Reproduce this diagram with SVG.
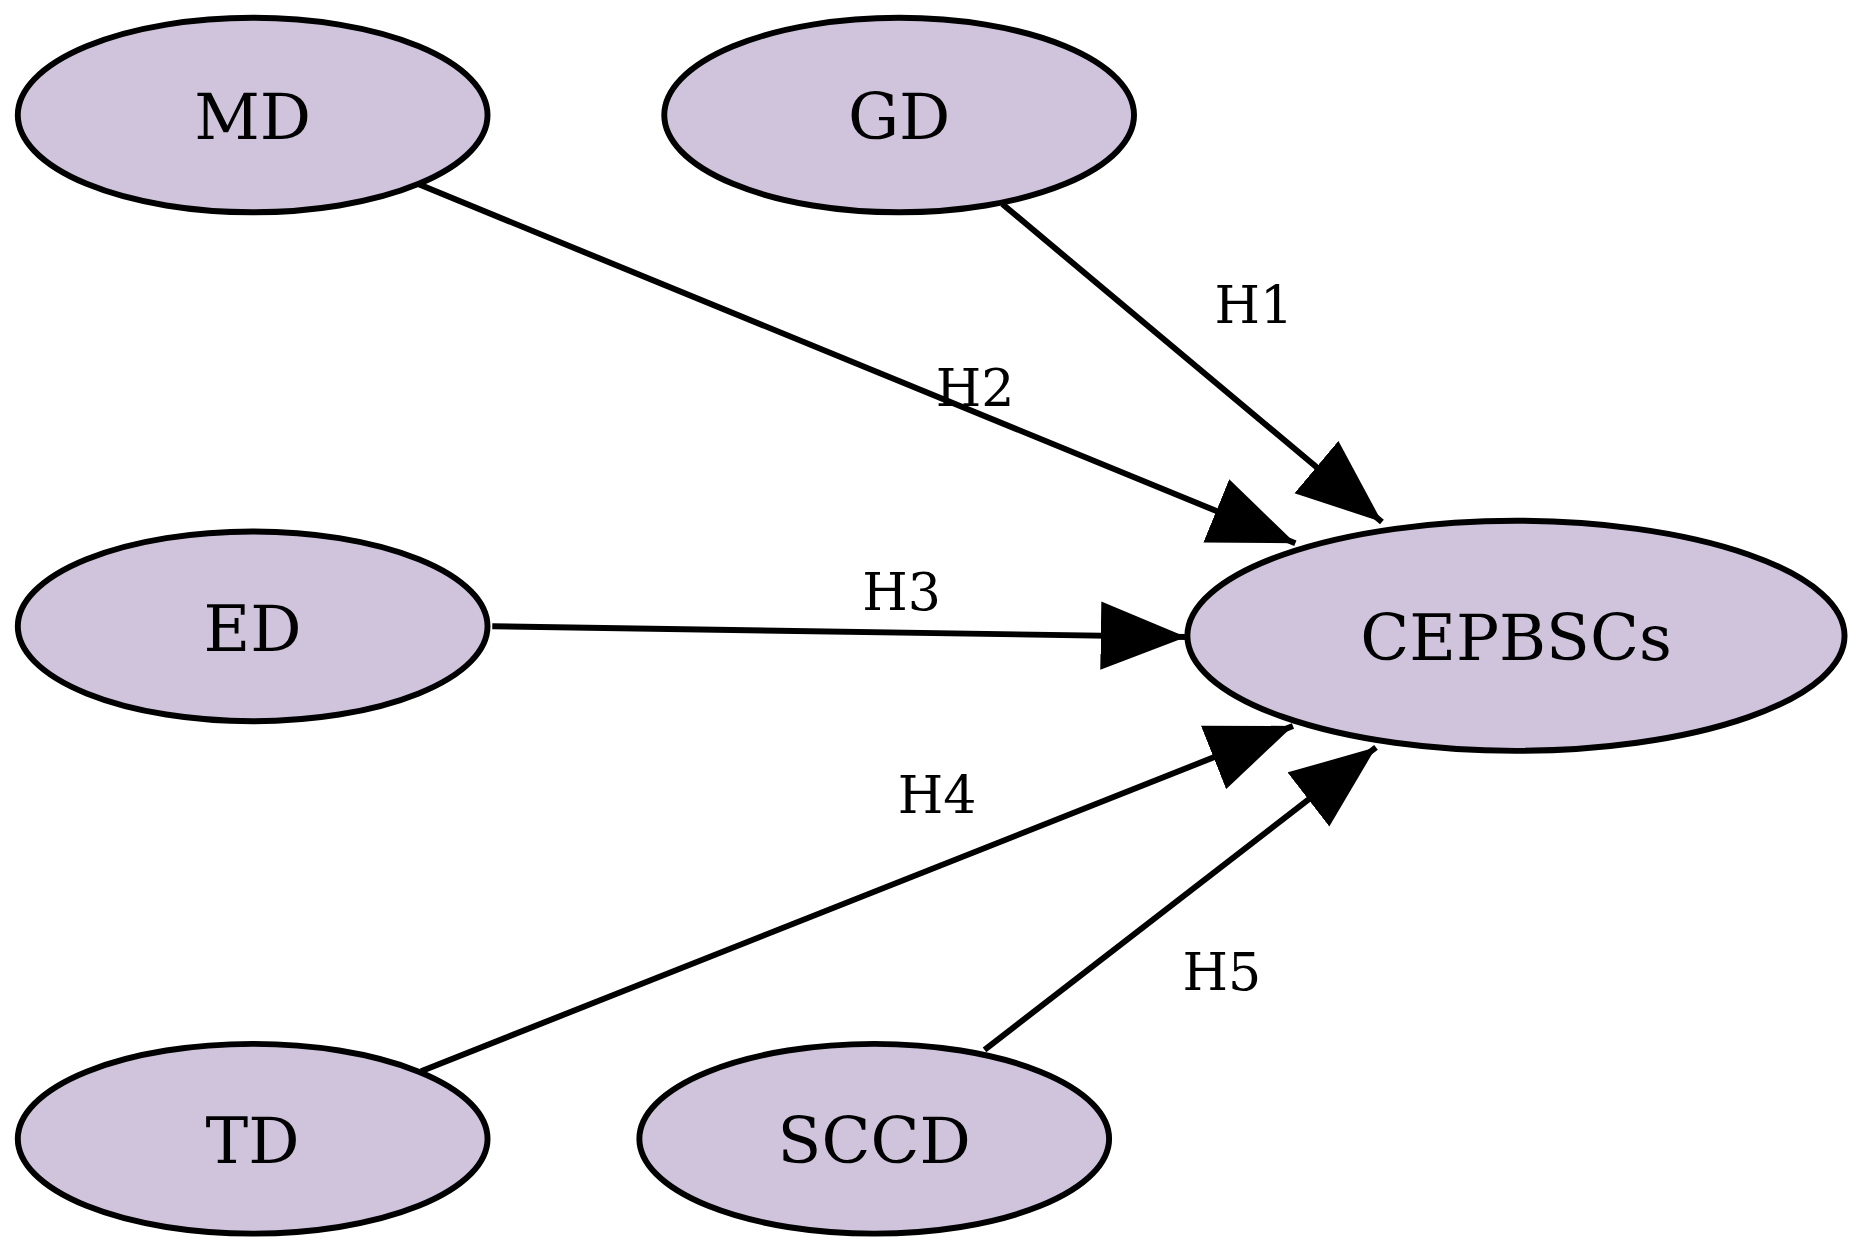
<svg xmlns="http://www.w3.org/2000/svg" width="1860" height="1255" viewBox="0 0 1860 1255">
<style>
.n ellipse{fill:#d0c4dc;stroke:#000;stroke-width:5}
.n text{font-family:"DejaVu Serif","Liberation Serif",serif;font-size:54px;text-anchor:middle;dominant-baseline:central}
.e line{stroke:#000;stroke-width:5}
.l{font-family:"DejaVu Serif","Liberation Serif",serif;font-size:44px;text-anchor:middle}
</style>
<defs><marker id="a" markerWidth="16" markerHeight="12" refX="15" refY="6" orient="auto" markerUnits="userSpaceOnUse" viewBox="0 0 16 12"><path d="M0,0L16,6L0,12z" fill="#000"/></marker>
<marker id="b" viewBox="0 0 10 8" refX="10" refY="4" markerWidth="72" markerHeight="58" markerUnits="userSpaceOnUse" orient="auto"><path d="M0,0L10,4L0,8z" fill="#000"/></marker></defs>
<rect width="1860" height="1255" fill="#fff"/>
<g transform="scale(1.1862)">
<g class="e" id="edges">
<line x1="352" y1="155" x2="1092" y2="458" marker-end="url(#b)"/>
<line x1="845" y1="172" x2="1165" y2="440" marker-end="url(#b)"/>
<line x1="415" y1="528" x2="1000" y2="537" marker-end="url(#b)"/>
<line x1="355" y1="903" x2="1090" y2="612" marker-end="url(#b)"/>
<line x1="830" y1="885" x2="1160" y2="630" marker-end="url(#b)"/>
<text class="l" x="1057" y="272">H1</text>
<text class="l" x="822" y="342">H2</text>
<text class="l" x="760" y="514">H3</text>
<text class="l" x="790" y="685">H4</text>
<text class="l" x="1030" y="835">H5</text>
</g>
<g class="n" id="MD"><ellipse cx="213" cy="97" rx="198" ry="82"/><text x="213" y="99">MD</text></g>
<g class="n" id="GD"><ellipse cx="758" cy="97" rx="198" ry="82"/><text x="758" y="99">GD</text></g>
<g class="n" id="ED"><ellipse cx="213" cy="528" rx="198" ry="80"/><text x="213" y="530">ED</text></g>
<g class="n" id="CEPBSCs"><ellipse cx="1278" cy="536" rx="277" ry="97"/><text x="1278" y="538">CEPBSCs</text></g>
<g class="n" id="TD"><ellipse cx="213" cy="960" rx="198" ry="80"/><text x="213" y="962">TD</text></g>
<g class="n" id="SCCD"><ellipse cx="737" cy="960" rx="198" ry="80"/><text x="737" y="962">SCCD</text></g>
</g>
</svg>
